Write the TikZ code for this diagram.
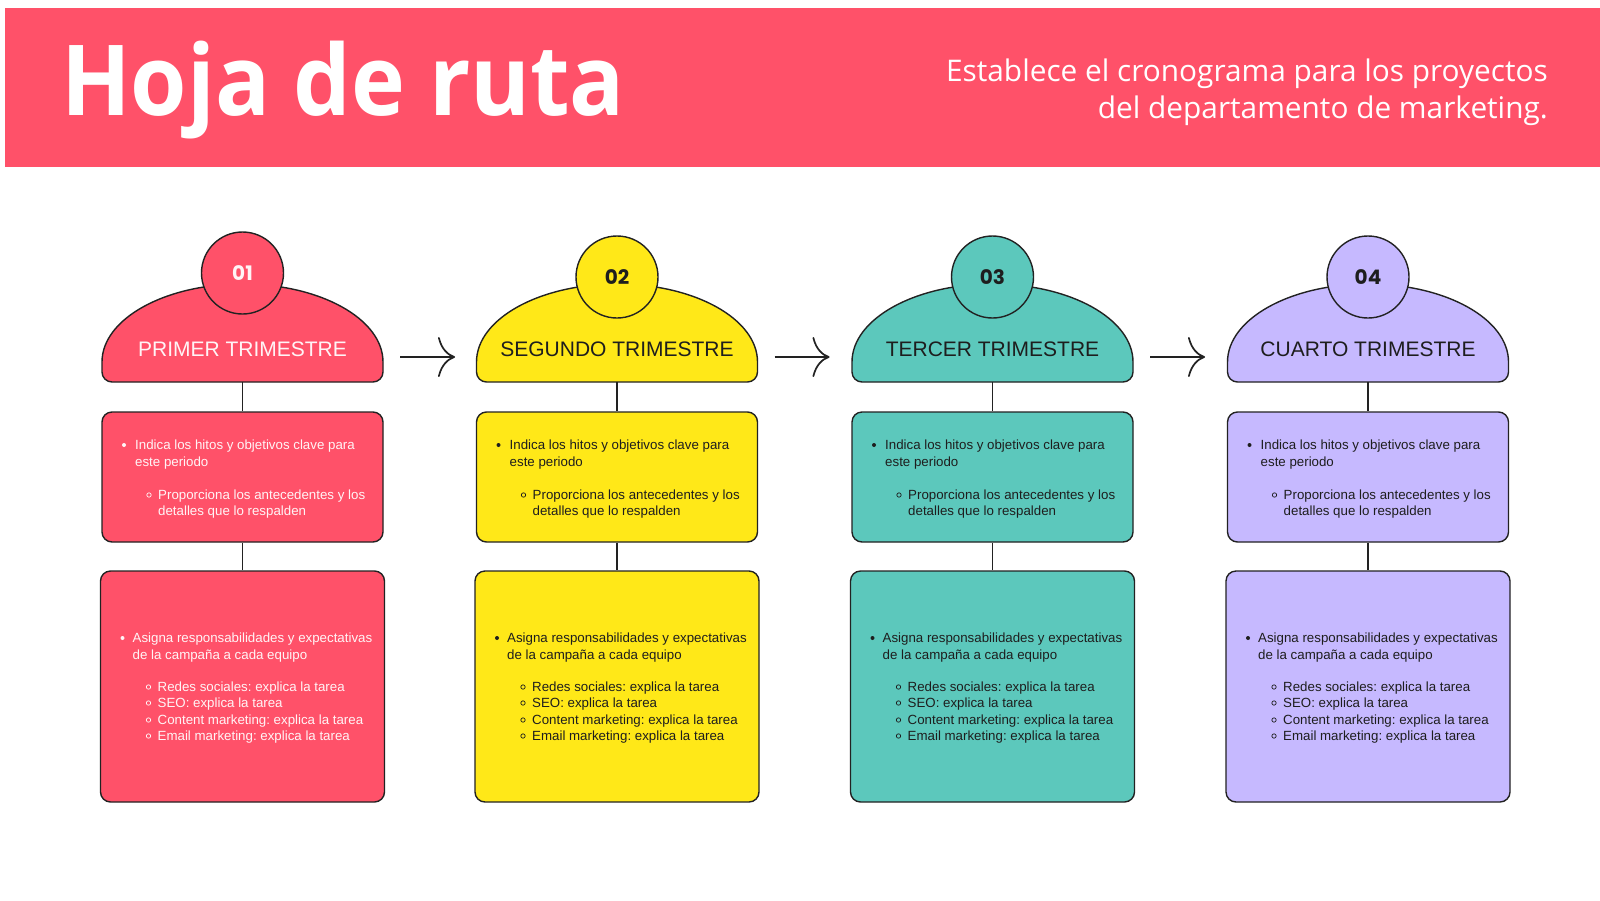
\documentclass[tikz,border=0pt]{standalone}
\usepackage{fontspec}
\setmainfont{Liberation Sans}
\newfontfamily\titlefont{Open Sans}[FakeStretch=0.93]
\newfontfamily\subfont{Open Sans}
\newfontfamily\numfont{Poppins}
\usetikzlibrary{arrows.meta}
\frenchspacing
\definecolor{cred}{HTML}{FF5169}
\definecolor{cyel}{HTML}{FFE818}
\definecolor{cteal}{HTML}{5CC8BC}
\definecolor{clav}{HTML}{C6B9FF}
\definecolor{cline}{HTML}{222222}
\definecolor{ctxt}{HTML}{1E1E1E}
\definecolor{cwtx}{HTML}{FFF4F6}
\begin{document}
\begin{tikzpicture}[x=1pt,y=-1pt,
  outl/.style={draw=cline, line width=1.4pt},
  boxnode/.style={outl, rounded corners=10pt, inner sep=0pt},
  smalltxt/.style={anchor=base west, inner sep=0pt, font=\frenchspacing\fontsize{13.3}{16}\selectfont},
  flowarrow/.style={draw=cline, line width=1.7pt, -{Computer Modern Rightarrow[length=17pt,width=40pt,line width=1.7pt]}}]
\useasboundingbox (0,0) rectangle (1600,900);
\fill[white] (0,0) rectangle (1600,900);
\fill[cred] (5,8) rectangle (1600,167);
\node[anchor=base west, inner sep=0pt, text=white, font=\titlefont\bfseries\fontsize{98}{100}\selectfont] (title) at (61,115.7) {Hoja de ruta};
\node[anchor=base east, inner sep=0pt, text=white, font=\subfont\fontsize{29.8}{30}\selectfont] (sub1) at (1548,81.7) {Establece el cronograma para los proyectos};
\node[anchor=base east, inner sep=0pt, text=white, font=\subfont\fontsize{29.8}{30}\selectfont] (sub2) at (1548,118) {del departamento de marketing.};

\foreach \i/\cx/\col/\tc/\cy/\lab in {1/242.5/cred/cwtx/273/PRIMER TRIMESTRE, 2/617/cyel/ctxt/277/SEGUNDO TRIMESTRE, 3/992.5/cteal/ctxt/277/TERCER TRIMESTRE, 4/1368/clav/ctxt/277/CUARTO TRIMESTRE}{
  % dome
  \draw[outl, fill=\col] (\cx+140.5,362) -- (\cx+140.5,372) arc[start angle=0, end angle=-90, radius=10pt] -- (\cx-130.5,382) arc[start angle=270, end angle=180, radius=10pt] -- (\cx-140.5,362) arc[start angle=180, end angle=0, x radius=140.5pt, y radius=78pt] -- cycle;
  \node[circle, outl, fill=\col, minimum size=82pt, inner sep=0pt, text=\tc, font=\numfont\bfseries\fontsize{20}{20}\selectfont] (n\i) at (\cx,\cy) {0\i};
  \node[anchor=base, inner sep=0pt, text=\tc, font=\fontsize{21}{21}\selectfont] (l\i) at (\cx,356) {\lab};
  \coordinate (d\i) at (\cx,382);
  % boxes
  \node[boxnode, fill=\col, minimum width=281pt, minimum height=130pt] (ba\i) at (\cx,477) {};
  \node[boxnode, fill=\col, minimum width=284pt, minimum height=231pt] (bb\i) at (\cx,686.5) {};
  \draw[outl] (d\i) -- (ba\i.north);
  \draw[outl] (ba\i.south) -- (bb\i.north);
  % box a text
  \fill[\tc] (\cx-118.5,445) circle (2pt);
  \node[smalltxt, text=\tc] (ta\i) at (\cx-107.5,449) {Indica los hitos y objetivos clave para};
  \node[smalltxt, text=\tc] (tb\i) at (\cx-107.5,466) {este periodo};
  \draw[\tc, line width=0.7pt] (\cx-93.5,495) circle (2.2pt);
  \node[smalltxt, text=\tc] (tc\i) at (\cx-84.5,499) {Proporciona los antecedentes y los};
  \node[smalltxt, text=\tc] (td\i) at (\cx-84.5,515) {detalles que lo respalden};
  % box b text
  \fill[\tc] (\cx-120,638) circle (2pt);
  \node[smalltxt, text=\tc] (te\i) at (\cx-110,642) {Asigna responsabilidades y expectativas};
  \node[smalltxt, text=\tc] (tf\i) at (\cx-110,659) {de la campaña a cada equipo};
  \foreach \yy/\tt in {691/Redes sociales: explica la tarea, 707/SEO: explica la tarea, 724/Content marketing: explica la tarea, 740/Email marketing: explica la tarea}{
    \draw[\tc, line width=0.7pt] (\cx-94,\yy-4) circle (2.2pt);
    \node[smalltxt, text=\tc] at (\cx-85,\yy) {\tt};
  }
}
\foreach \i/\cx in {1/242.5, 2/617, 3/992.5}{
  \coordinate (as\i) at (\cx+157.5,357);
  \coordinate (ae\i) at (\cx+212.5,357);
  \draw[flowarrow] (as\i) -- (ae\i);
}
\end{tikzpicture}
\end{document}
